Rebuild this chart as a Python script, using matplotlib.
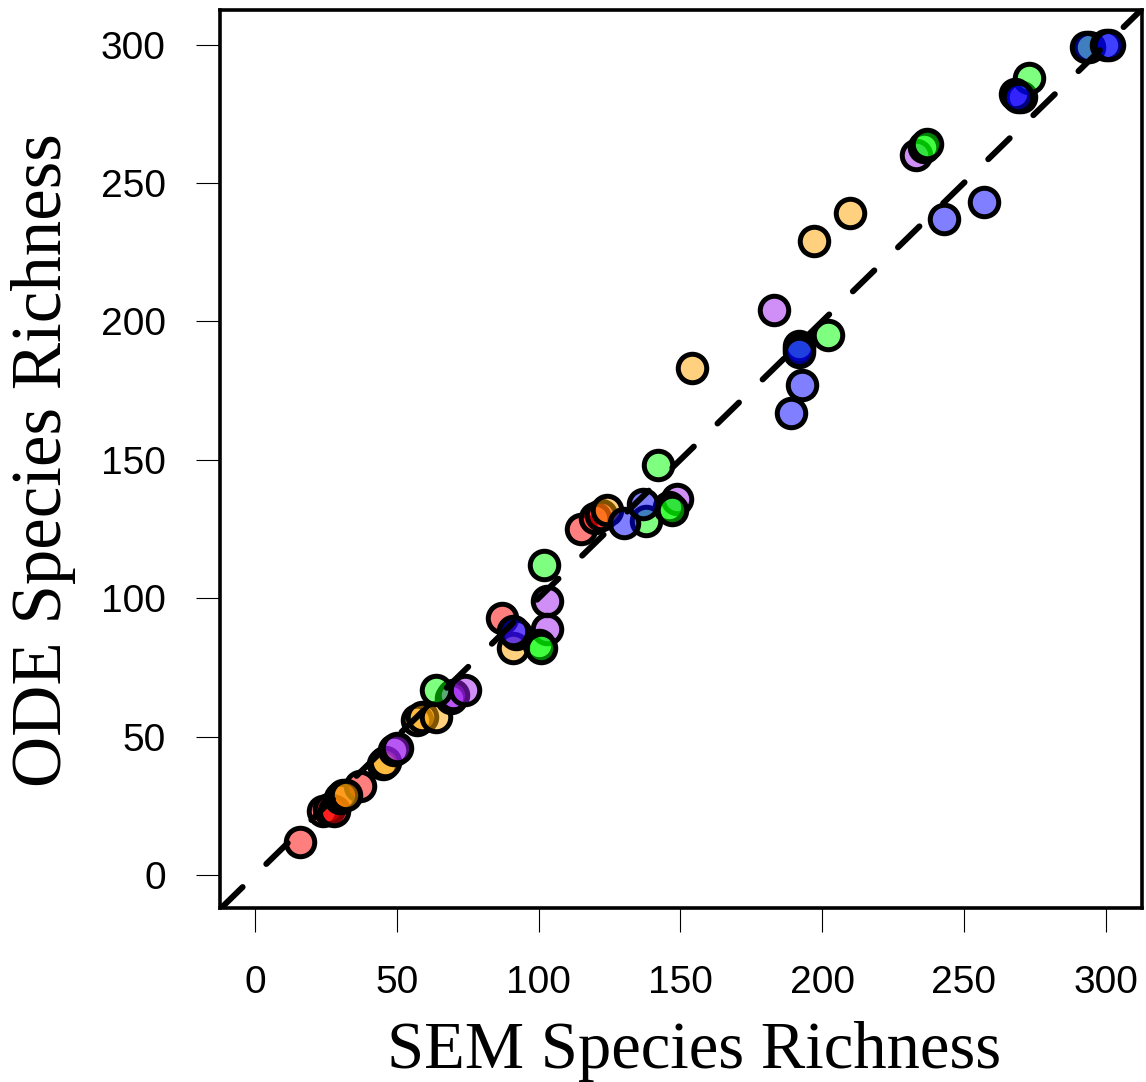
import numpy as np
import matplotlib.pyplot as plt

# SEM vs ODE species richness, one list pair per colour group
red_sem = [16, 24, 26, 28, 30, 37, 87, 115, 120, 122]
red_ode = [12, 23, 24, 23, 28, 32, 93, 125, 129, 130]

orange_sem = [31, 32, 45, 46, 57, 59, 64, 91, 124, 154, 197, 210]
orange_ode = [29, 29, 40, 41, 56, 57, 57, 82, 132, 183, 229, 239]

purple_sem = [49, 50, 69, 70, 74, 92, 103, 103, 149, 183, 233, 270]
purple_ode = [45, 46, 64, 65, 67, 87, 99, 89, 136, 204, 260, 281]

green_sem = [64, 100, 101, 102, 138, 142, 146, 147, 192, 202, 236, 237, 273, 294]
green_ode = [67, 83, 82, 112, 128, 148, 133, 132, 191, 195, 263, 264, 288, 299]

blue_sem = [91, 130, 137, 189, 192, 192, 193, 243, 257, 268, 269, 293, 300, 301]
blue_ode = [88, 127, 134, 167, 190, 189, 177, 237, 243, 282, 281, 299, 300, 300]

ticks = [0, 50, 100, 150, 200, 250, 300]

groups = [
    (red_sem, red_ode, (1.0, 0.0, 0.0, 0.5)),
    (orange_sem, orange_ode, (1.0, 0.647, 0.0, 0.5)),
    (purple_sem, purple_ode, (0.627, 0.125, 0.941, 0.5)),
    (green_sem, green_ode, (0.0, 1.0, 0.0, 0.5)),
    (blue_sem, blue_ode, (0.0, 0.0, 1.0, 0.5)),
]

plt.rcParams['lines.scale_dashes'] = False

fig = plt.figure(figsize=(11.46, 10.82), dpi=100)
ax = fig.add_axes([0.192, 0.1608, 0.8045, 0.83])

for sem, ode, col in groups:
    for xs, ys in zip(sem, ode):
        ax.plot(xs, ys, 'o', ms=20.5, mfc=col, mec='black', mew=3.6, zorder=2)

# 1:1 line
ax.axline((0, 0), slope=1, color='black', lw=4.3, dashes=(21.6, 23.8),
          dash_capstyle='round', zorder=3)

ax.set_xlim(-12.3, 312.8)
ax.set_ylim(-11.9, 312.5)
ax.set_xticks(ticks)
ax.set_yticks(ticks)

for s in ax.spines.values():
    s.set_linewidth(2.6)

ax.tick_params(axis='both', direction='out', length=17, width=0.8,
               labelsize=28)
ax.tick_params(axis='x', pad=24)
ax.tick_params(axis='y', pad=22)
for lab in ax.get_xticklabels() + ax.get_yticklabels():
    lab.set_family('Liberation Sans')

fig.text(0.606, 0.013, 'SEM Species Richness', family='Liberation Serif',
         fontsize=48, ha='center', va='baseline')
fig.text(0.038, 0.575, 'ODE Species Richness', family='Liberation Serif',
         fontsize=51, ha='center', va='center', rotation=90)

fig.savefig('out.png', dpi=100)
